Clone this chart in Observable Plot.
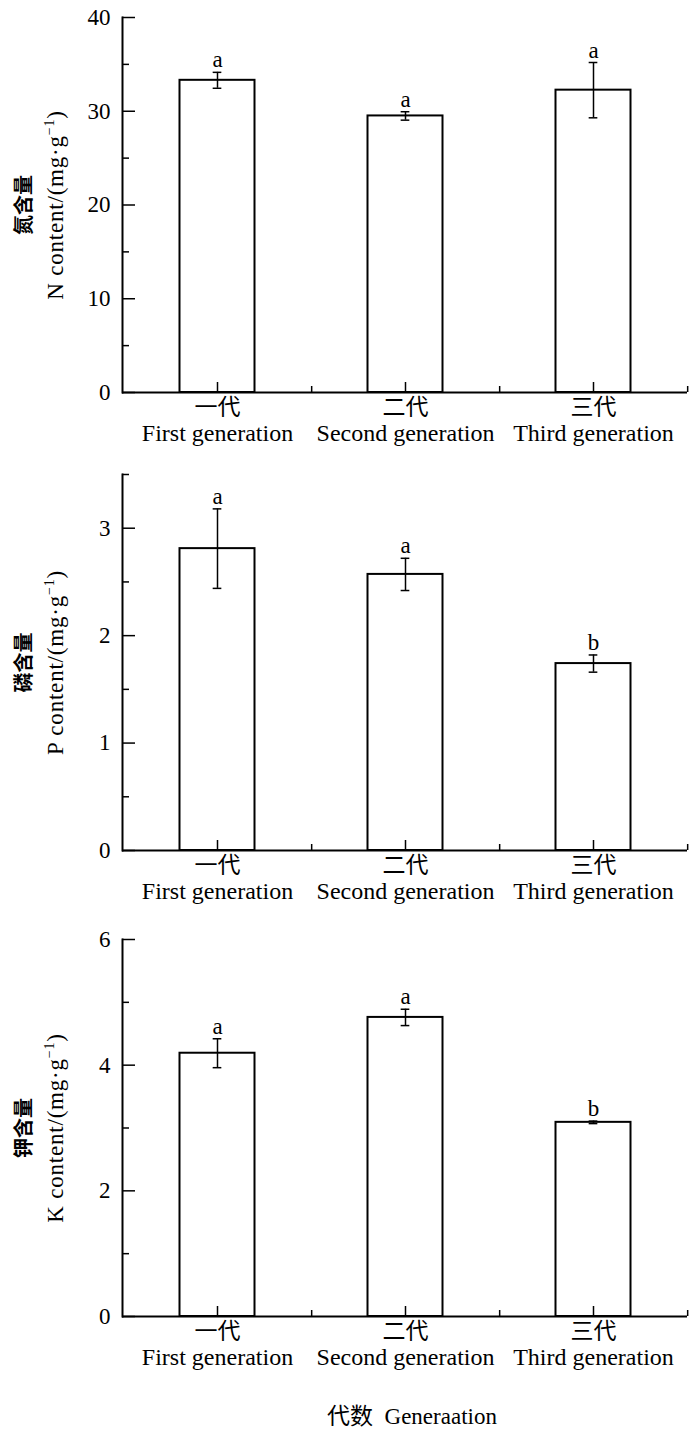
<!DOCTYPE html>
<html><head><meta charset="utf-8">
<script src="https://cdn.jsdelivr.net/npm/d3@7"></script>
<script src="https://cdn.jsdelivr.net/npm/@observablehq/plot@0.6"></script>
<style>
body{margin:0;background:#fff;width:700px;}
#chart svg{display:block;}
#caption{position:relative;width:700px;height:46px;font-family:'Liberation Serif','Noto Sans CJK SC',serif;font-size:23px;color:#000;}
#caption span{position:absolute;left:412px;top:24px;transform:translate(-50%,-50%);white-space:nowrap;}
</style>
</head><body>
<div id="chart"></div>
<div id="caption"><span>代数&nbsp;&nbsp;Generaation</span></div>
<script>
const categoriesZh = ["一代", "二代", "三代"];
const categoriesEn = ["First generation", "Second generation", "Third generation"];

const nValues = [33.3, 29.5, 32.25];
const nErrors = [0.85, 0.45, 2.95];
const nLetters = ["a", "a", "a"];
const nMajorTicks = [0, 10, 20, 30, 40];
const nMinorTicks = [5, 15, 25, 35];

const pValues = [2.81, 2.57, 1.74];
const pErrors = [0.37, 0.15, 0.08];
const pLetters = ["a", "a", "b"];
const pMajorTicks = [0, 1, 2, 3];
const pMinorTicks = [0.5, 1.5, 2.5, 3.5];

const kValues = [4.19, 4.76, 3.09];
const kErrors = [0.23, 0.13, 0.02];
const kLetters = ["a", "a", "b"];
const kMajorTicks = [0, 2, 4, 6];
const kMinorTicks = [1, 3, 5];

const yLabelsZh = ["氮含量", "磷含量", "钾含量"];
const yLabelsEn = ["N content/(mg·g⁻¹)", "P content/(mg·g⁻¹)", "K content/(mg·g⁻¹)"];

const SERIF = "Liberation Serif, Noto Sans CJK SC, serif";
const CJK = "Noto Sans CJK SC, sans-serif";
const W = 700, ML = 122, MR = 13;

function panel({values, errors, letters, ymax, majors, minors, zhLabel, enLabel, height, marginTop, marginBottom}) {
  const data = categoriesEn.map((c, i) => ({en: c, zh: categoriesZh[i], value: values[i], err: errors[i], letter: letters[i]}));
  const plotW = W - ML - MR, plotH = height - marginTop - marginBottom;
  const bw = plotW / categoriesEn.length;
  const capInset = bw / 2 - 4.5;
  const barInset = bw * 0.3;
  const svg = Plot.plot({
    width: W, height, marginLeft: ML, marginRight: MR, marginTop, marginBottom,
    style: {fontFamily: SERIF, fontSize: "22px", color: "black", background: "white", overflow: "visible"},
    x: {domain: categoriesEn, padding: 0, axis: null},
    y: {domain: [0, ymax]},
    marks: [
      Plot.barY(data, {x: "en", y: "value", fill: "white", stroke: "black", strokeWidth: 2, insetLeft: barInset, insetRight: barInset}),
      Plot.ruleX(data, {x: "en", y1: d => d.value - d.err, y2: d => d.value + d.err, stroke: "black", strokeWidth: 1.5}),
      Plot.tickY(data, {x: "en", y: d => d.value + d.err, insetLeft: capInset, insetRight: capInset, stroke: "black", strokeWidth: 1.5}),
      Plot.tickY(data, {x: "en", y: d => d.value - d.err, insetLeft: capInset, insetRight: capInset, stroke: "black", strokeWidth: 1.5}),
      Plot.text(data, {x: "en", y: d => d.value + d.err, text: "letter", lineAnchor: "bottom", dy: -5, fontSize: 23, fontFamily: SERIF, fill: "black"}),
      Plot.ruleY(majors, {y: d => d, insetRight: plotW - 13, stroke: "black", strokeWidth: 1.5}),
      Plot.ruleY(minors, {y: d => d, insetRight: plotW - 7, stroke: "black", strokeWidth: 1.5}),
      Plot.axisY({ticks: majors, tickSize: 0, tickPadding: 12, fontSize: 23, label: null, fontFamily: SERIF, tickFormat: d => String(d)}),
      Plot.ruleX(categoriesEn, {x: d => d, insetTop: plotH - 10, stroke: "black", strokeWidth: 1.5}),
      Plot.ruleX(categoriesEn, {x: d => d, dx: bw / 2, insetTop: plotH - 6, stroke: "black", strokeWidth: 1.5}),
      Plot.text(data, {x: "en", text: "zh", frameAnchor: "bottom", dy: 22, fontSize: 23, fontFamily: CJK, fill: "black"}),
      Plot.text(data, {x: "en", text: "en", frameAnchor: "bottom", dy: 48, fontSize: 24, fontFamily: SERIF, fill: "black"}),
      Plot.text([zhLabel], {text: d => d, frameAnchor: "left", textAnchor: "middle", dx: -98, rotate: -90, fontSize: 20, fontWeight: "bold", fontFamily: CJK, fill: "black"}),
      Plot.text([enLabel], {text: d => d, frameAnchor: "left", textAnchor: "middle", dx: -67, rotate: -90, fontSize: 23, fontFamily: SERIF, fill: "black"}),
      Plot.frame({anchor: "left", stroke: "black", strokeWidth: 2}),
      Plot.ruleY([0], {stroke: "black", strokeWidth: 2})
    ]
  });
  d3.select(svg).selectAll("text").filter(function() { return this.textContent === enLabel; }).each(function() {
    const t = d3.select(this);
    const [base, rest] = enLabel.split("⁻¹");
    t.text(null).attr("letter-spacing", "0.8px");
    t.append("tspan").text(base);
    t.append("tspan").attr("dy", "-9").attr("font-size", "14px").text("−1");
    t.append("tspan").attr("dy", "9").text(rest);
  });
  return svg;
}

const chart = document.getElementById("chart");
chart.append(panel({values: nValues, errors: nErrors, letters: nLetters, ymax: 40, majors: nMajorTicks, minors: nMinorTicks,
  zhLabel: yLabelsZh[0], enLabel: yLabelsEn[0], height: 460, marginTop: 17, marginBottom: 68}));
chart.append(panel({values: pValues, errors: pErrors, letters: pLetters, ymax: 3.5, majors: pMajorTicks, minors: pMinorTicks,
  zhLabel: yLabelsZh[1], enLabel: yLabelsEn[1], height: 460, marginTop: 14, marginBottom: 70}));
chart.append(panel({values: kValues, errors: kErrors, letters: kLetters, ymax: 6, majors: kMajorTicks, minors: kMinorTicks,
  zhLabel: yLabelsZh[2], enLabel: yLabelsEn[2], height: 470, marginTop: 19, marginBottom: 74}));
</script>
</body></html>
